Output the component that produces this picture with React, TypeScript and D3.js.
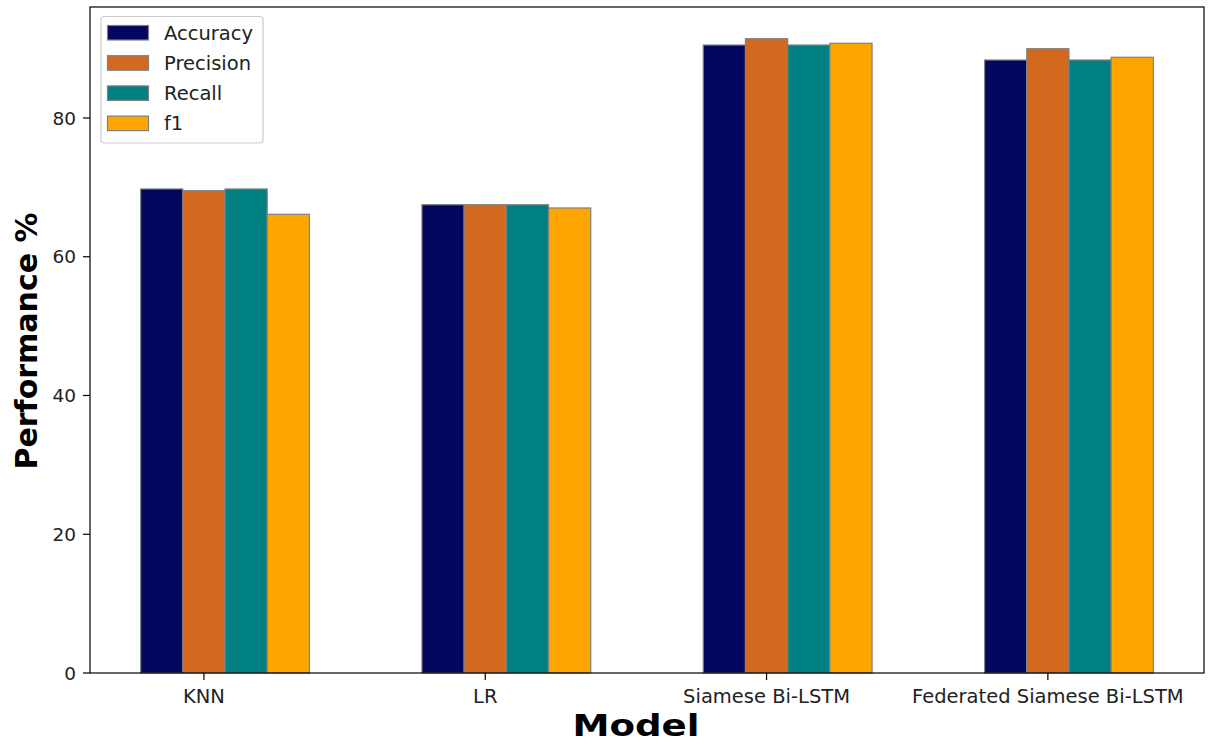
import React from "react";
import * as d3 from "d3";

const categories = ["KNN", "LR", "Siamese Bi-LSTM", "Federated Siamese Bi-LSTM"];
const seriesNames = ["Accuracy", "Precision", "Recall", "f1"];
const accuracy = [69.77, 67.5, 90.52, 88.36];
const precision = [69.52, 67.5, 91.43, 89.99];
const recall = [69.77, 67.5, 90.52, 88.36];
const f1 = [66.12, 67.03, 90.77, 88.75];
const yTicks = [0, 20, 40, 60, 80];
const colors = ["#03065e", "#d2691e", "#008080", "#ffa500"];

const series = [accuracy, precision, recall, f1];

const W = 1208;
const H = 744;
const left = 90;
const right = 1204;
const top = 7;
const bottom = 673;
const barW = 0.15;

export default function App() {
  const x = d3.scaleLinear().domain([-0.255, 3.705]).range([left, right]);
  const y = d3.scaleLinear().domain([0, 96]).range([bottom, top]);
  const font = "'DejaVu Sans', sans-serif";
  const tickPos = (i: number) => x(i + barW);

  return (
    <svg width={W} height={H} style={{ position: "absolute", left: 0, top: 0, background: "#fff" }}>
      <rect x={0} y={0} width={W} height={H} fill="#fff" />
      {series.map((vals, k) =>
        vals.map((v, i) => {
          const cx = i + k * barW;
          const x0 = x(cx - barW / 2);
          const x1 = x(cx + barW / 2);
          return (
            <rect
              key={`${k}-${i}`}
              x={x0}
              y={y(v)}
              width={x1 - x0}
              height={y(0) - y(v)}
              fill={colors[k]}
              stroke="#808080"
              strokeWidth={1.2}
            />
          );
        })
      )}
      <rect x={left} y={top} width={right - left} height={bottom - top} fill="none" stroke="#000" strokeWidth={1.2} />
      {yTicks.map((t) => (
        <g key={t}>
          <line x1={left - 7} x2={left} y1={y(t)} y2={y(t)} stroke="#000" strokeWidth={1.2} />
          <text x={left - 14} y={y(t)} dy="0.36em" textAnchor="end" fontFamily={font} fontSize={18.5} fill="#222">
            {t}
          </text>
        </g>
      ))}
      {categories.map((c, i) => (
        <g key={c}>
          <line x1={tickPos(i)} x2={tickPos(i)} y1={bottom} y2={bottom + 7} stroke="#000" strokeWidth={1.2} />
          <text x={tickPos(i)} y={bottom + 30} textAnchor="middle" fontFamily={font} fontSize={19.5} fill="#222">
            {c}
          </text>
        </g>
      ))}
      <text
        transform="translate(636, 736) scale(1.2, 1)"
        textAnchor="middle"
        fontFamily={font}
        fontSize={31}
        fontWeight="bold"
      >
        Model
      </text>
      <text
        transform={`translate(37, ${(top + bottom) / 2 + 1}) rotate(-90)`}
        textAnchor="middle"
        fontFamily={font}
        fontSize={30}
        fontWeight="bold"
      >
        Performance %
      </text>
      <rect x={101} y={16.5} width={162} height={126.5} rx={3} fill="#fff" fillOpacity={0.8} stroke="#ccc" strokeWidth={1.2} />
      {seriesNames.map((n, k) => (
        <g key={n}>
          <rect x={107.5} y={25.5 + k * 30.2} width={41} height={14.5} fill={colors[k]} stroke="#808080" strokeWidth={1.2} />
          <text x={164} y={32.8 + k * 30.2} dy="0.36em" fontFamily={font} fontSize={19.5} fill="#222">
            {n}
          </text>
        </g>
      ))}
    </svg>
  );
}
